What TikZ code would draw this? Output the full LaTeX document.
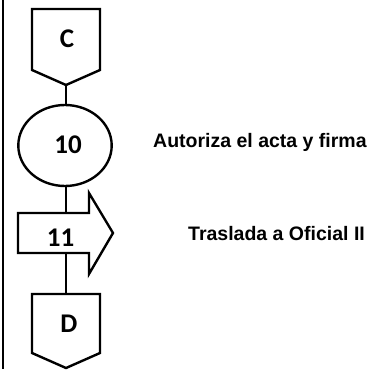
\documentclass[tikz,border=0pt]{standalone}
\usepackage{fontspec}
\setmainfont{Liberation Sans}
\newfontfamily\numfont{Carlito}
\begin{document}
\begin{tikzpicture}[x=1pt,y=-1pt,
  shapeline/.style={draw=black,line width=2.4pt,line join=miter},
  link/.style={draw=black,line width=2.4pt},
  symtext/.style={font=\numfont\bfseries\fontsize{27}{27}\selectfont,inner sep=0pt,anchor=base},
  note/.style={font=\bfseries\fontsize{19.5}{19.5}\selectfont,inner sep=0pt},
]
\useasboundingbox (0,0) rectangle (377,369);
% frame line on the left
\draw[line width=2pt] (2.5,0) -- (2.5,369);

% off-page connector C
\draw[shapeline] (32,9) -- (100,9) -- (100,70) -- (66,85) -- (32,70) -- cycle;
\coordinate (cOut) at (66,85);
\node[symtext] (cLabel) at (67,48) {C};

% operation 10
\draw[shapeline] (65,145.5) ellipse [x radius=46.7, y radius=40.5];
\coordinate (opIn) at (66,105);
\coordinate (opOut) at (66,186);
\node[symtext] (opLabel) at (68,153) {10};

% transport 11
\draw[shapeline] (18,213) -- (89,213) -- (89,193) -- (113,233) -- (89,274) -- (89,253) -- (18,253) -- cycle;
\coordinate (trIn) at (66,213);
\coordinate (trOut) at (66,253);
\node[symtext] (trLabel) at (60.5,246) {11};

% off-page connector D
\draw[shapeline] (32,294) -- (100,294) -- (100,353) -- (66,368) -- (32,353) -- cycle;
\coordinate (dIn) at (66,294);
\node[symtext] (dLabel) at (69,332) {D};

% flow lines
\draw[link] (cOut) -- (opIn);
\draw[link] (opOut) -- (trIn);
\draw[link] (trOut) -- (dIn);

% descriptions
\node[note,anchor=base west] (opNote) at (153,147) {Autoriza el acta y firma};
\node[note,anchor=base west] (trNote) at (188,240) {Traslada a Oficial II};
\end{tikzpicture}
\end{document}
